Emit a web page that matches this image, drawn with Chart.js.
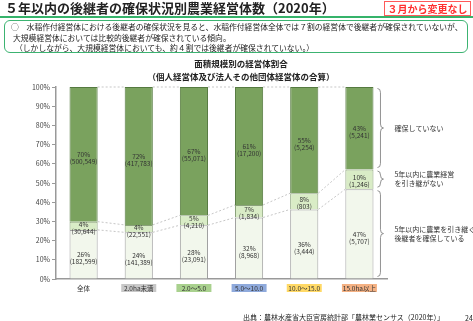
<!DOCTYPE html>
<html lang="ja">
<head>
<meta charset="UTF-8">
<title>5年以内の後継者の確保状況別農業経営体数</title>
<script src="https://cdn.jsdelivr.net/npm/chart.js"></script>
<style>
    body { margin: 0; width: 473px; height: 321px; overflow: hidden; background: #fff;
           font-family: "Noto Sans CJK JP", "Noto Sans", sans-serif; color: #222; }
    .abs { position: absolute; white-space: nowrap; }
    #chart { position: absolute; left: 0; top: 0; }
</style>
</head>
<body>
<canvas id="chart" width="473" height="321"></canvas>

<div class="abs" style="left:5px;top:0px;font-size:13px;font-weight:bold;line-height:16px;">５年以内の後継者の確保状況別農業経営体数（2020年）</div>
<div class="abs" style="left:0;top:16px;width:473px;height:2px;background:#35b36a;"></div>
<div class="abs" style="left:384px;top:1px;width:85px;height:13px;border:1px solid #ff5a5a;background:#fff;color:#ff3030;font-size:10px;font-weight:bold;line-height:13px;text-align:center;">３月から変更なし</div>
<div class="abs" style="left:4px;top:20px;width:462px;height:31px;border:1.5px solid #3cb371;border-radius:6px;"></div>
<div class="abs" style="left:11px;top:22px;font-size:7.8px;line-height:10px;">○　水稲作付経営体における後継者の確保状況を見ると、水稲作付経営体全体では７割の経営体で後継者が確保されていないが、</div>
<div class="abs" style="left:13px;top:33px;font-size:7.8px;line-height:10px;">大規模経営体においては比較的後継者が確保されている傾向。</div>
<div class="abs" style="left:15px;top:43px;font-size:7.8px;line-height:10px;">（しかしながら、大規模経営体においても、約４割では後継者が確保されていない。）</div>

<div class="abs" style="left:141px;width:200px;top:57px;text-align:center;font-size:8.5px;font-weight:bold;line-height:12px;">面積規模別の経営体割合</div>
<div class="abs" style="left:141px;width:200px;top:70px;text-align:center;font-size:8.5px;font-weight:bold;line-height:12px;">（個人経営体及び法人その他団体経営体の合算）</div>

<div class="abs" style="left:243px;top:312px;font-size:7px;line-height:10px;">出典：農林水産省大臣官房統計部「農林業センサス（2020年）」</div>
<div class="abs" style="left:465px;top:313px;font-size:7px;line-height:10px;">24</div>

<script>
    const categories = ['全体', '2.0ha未満', '2.0～5.0', '5.0～10.0', '10.0～15.0', '15.0ha以上'];
    const categoryColors = ['', '#c8c8c8', '#a9d18e', '#8faadc', '#ffd966', '#f4b183'];

    // 経営体数
    const securedCounts = [182599, 141389, 23091, 8968, 3444, 5707];
    const notSuccessCounts = [30644, 22551, 4210, 1834, 803, 1246];
    const notSecuredCounts = [500549, 417783, 55071, 17200, 5254, 5241];

    // 図中の割合表示
    const securedPct = [26, 24, 28, 32, 36, 47];
    const notSuccessPct = [4, 4, 5, 7, 8, 10];
    const notSecuredPct = [70, 72, 67, 61, 55, 43];

    const legendNames = [
        ['5年以内に農業を引き継ぐ', '後継者を確保している'],
        ['5年以内に農業経営', 'を引き継がない'],
        ['確保していない']
    ];

    const totals = categories.map((c, i) => securedCounts[i] + notSuccessCounts[i] + notSecuredCounts[i]);
    const share = arr => arr.map((v, i) => v / totals[i] * 100);
    const counts = [securedCounts, notSuccessCounts, notSecuredCounts];
    const pcts = [securedPct, notSuccessPct, notSecuredPct];

    const fmt = n => '(' + n.toLocaleString('en-US') + ')';

    function drawBrace(ctx, x, y1, y2, w) {
        const ym = (y1 + y2) / 2;
        const r = Math.min(4, (y2 - y1) / 4);
        ctx.beginPath();
        ctx.moveTo(x, y1);
        ctx.quadraticCurveTo(x + w / 2, y1, x + w / 2, y1 + r);
        ctx.lineTo(x + w / 2, ym - r);
        ctx.quadraticCurveTo(x + w / 2, ym, x + w, ym);
        ctx.quadraticCurveTo(x + w / 2, ym, x + w / 2, ym + r);
        ctx.lineTo(x + w / 2, y2 - r);
        ctx.quadraticCurveTo(x + w / 2, y2, x, y2);
        ctx.stroke();
    }

    const decorPlugin = {
        id: 'decor',
        beforeDatasetsDraw(chart) {
            // 棒の間の点線
            const ctx = chart.ctx;
            ctx.save();
            ctx.strokeStyle = '#b8b8b8';
            ctx.lineWidth = 0.8;
            ctx.setLineDash([2, 2]);
            for (let d = 0; d < 3; d++) {
                const els = chart.getDatasetMeta(d).data;
                for (let i = 0; i < els.length - 1; i++) {
                    const a = els[i], b = els[i + 1];
                    ctx.beginPath();
                    ctx.moveTo(a.x + a.width / 2, a.y);
                    ctx.lineTo(b.x - b.width / 2, b.y);
                    ctx.stroke();
                }
            }
            ctx.restore();
        },
        afterDatasetsDraw(chart) {
            const ctx = chart.ctx;
            ctx.save();
            ctx.fillStyle = '#333';
            ctx.textAlign = 'center';
            ctx.textBaseline = 'middle';
            ctx.font = '6.5px "Noto Sans CJK JP"';
            for (let d = 0; d < 3; d++) {
                const els = chart.getDatasetMeta(d).data;
                els.forEach((el, i) => {
                    const cy = (el.y + el.base) / 2;
                    const off = d === 1 ? -1.5 : 0.5;
                    ctx.fillText(pcts[d][i] + '%', el.x, cy + off);
                    ctx.fillText(fmt(counts[d][i]), el.x, cy + off + 7);
                });
            }

            // カテゴリラベル
            const xs = chart.getDatasetMeta(0).data;
            const yb = chart.chartArea.bottom;
            xs.forEach((el, i) => {
                if (categoryColors[i]) {
                    ctx.fillStyle = categoryColors[i];
                    ctx.fillRect(el.x - 17.5, yb + 5, 35, 8);
                }
                ctx.fillStyle = '#333';
                ctx.fillText(categories[i], el.x, yb + 9.5);
            });

            // 右側の括弧と凡例
            ctx.strokeStyle = '#777';
            ctx.lineWidth = 0.8;
            ctx.textAlign = 'left';
            ctx.font = '7px "Noto Sans CJK JP"';
            for (let d = 0; d < 3; d++) {
                const els = chart.getDatasetMeta(d).data;
                const last = els[els.length - 1];
                const top = last.y + 1.5, bot = last.base - 2;
                const bx = last.x + last.width / 2 + 4;
                drawBrace(ctx, bx, top, bot, 6);
                const lines = legendNames[d];
                const mid = (top + bot) / 2;
                ctx.fillStyle = '#333';
                lines.forEach((t, k) => {
                    ctx.fillText(t, bx + 17, mid + (k - (lines.length - 1) / 2) * 9);
                });
            }
            ctx.restore();
        }
    };

    const ctx = document.getElementById('chart').getContext('2d');
    const myChart = new Chart(ctx, {
        type: 'bar',
        data: {
            labels: categories,
            datasets: [
                {
                    label: legendNames[0].join(''),
                    data: share(securedCounts),
                    backgroundColor: '#f2f7ec',
                    borderColor: '#a0a0a0',
                    borderWidth: 1
                },
                {
                    label: legendNames[1].join(''),
                    data: share(notSuccessCounts),
                    backgroundColor: '#d9ecc6',
                    borderColor: '#8aa17a',
                    borderWidth: 1
                },
                {
                    label: legendNames[2][0],
                    data: share(notSecuredCounts),
                    backgroundColor: '#7aa25e',
                    borderColor: '#557a40',
                    borderWidth: 1
                }
            ]
        },
        options: {
            responsive: false,
            animation: false,
            layout: { padding: { left: 0, top: 87, right: 86, bottom: 0 } },
            plugins: {
                legend: { display: false },
                tooltip: { enabled: false }
            },
            datasets: {
                bar: { categoryPercentage: 1, barPercentage: 0.51 }
            },
            scales: {
                x: {
                    stacked: true,
                    grid: { display: false },
                    border: { display: true, color: '#999', width: 1.5 },
                    ticks: { display: false },
                    afterFit: s => { s.height = 42; }
                },
                y: {
                    stacked: true,
                    min: 0,
                    max: 100,
                    grid: { drawOnChartArea: false, drawTicks: true, tickLength: 4, color: '#999' },
                    border: { display: true, color: '#999', width: 1.5 },
                    ticks: {
                        stepSize: 10,
                        padding: 2,
                        color: '#444',
                        font: { family: '"Noto Sans CJK JP"', size: 7 },
                        callback: v => v + '%'
                    },
                    afterFit: s => { s.width = 56; }
                }
            }
        },
        plugins: [decorPlugin]
    });
</script>
</body>
</html>
